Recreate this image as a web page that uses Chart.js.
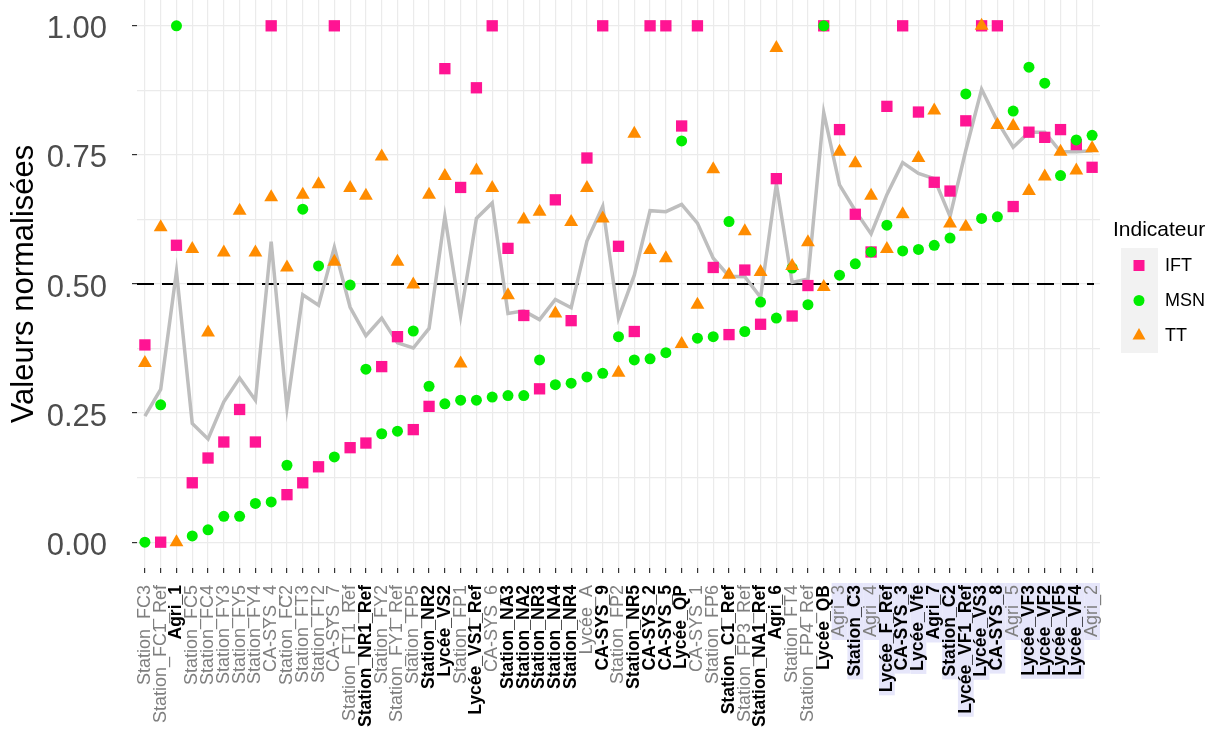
<!DOCTYPE html>
<html>
<head>
<meta charset="utf-8">
<script src="https://cdn.jsdelivr.net/npm/chart.js@4.4.0/dist/chart.umd.min.js"></script>
<style>
  html, body { margin: 0; padding: 0; background: #fff; }
  #wrap { width: 1223px; height: 729px; }
</style>
</head>
<body>
<div id="wrap"><canvas id="chart" width="1223" height="729"></canvas></div>
<script>
// systèmes, triés comme sur la figure
const categories = [
  'Station_FC3', 'Station_FC1_Ref', 'Agri_1', 'Station_FC5', 'Station_FC4', 'Station_FY3', 'Station_FY5', 'Station_FY4',
  'CA-SYS_4', 'Station_FC2', 'Station_FT3', 'Station_FT2', 'CA-SYS_7', 'Station_FT1_Ref', 'Station_NR1_Ref', 'Station_FY2',
  'Station_FY1_Ref', 'Station_FP5', 'Station_NR2', 'Lycée_VS2', 'Station_FP1', 'Lycée_VS1_Ref', 'CA-SYS_6', 'Station_NA3',
  'Station_NA2', 'Station_NR3', 'Station_NA4', 'Station_NR4', 'Lycée_A', 'CA-SYS_9', 'Station_FP2', 'Station_NR5',
  'CA-SYS_2', 'CA-SYS_5', 'Lycée_QP', 'CA-SYS_1', 'Station_FP6', 'Station_C1_Ref', 'Station_FP3_Ref', 'Station_NA1_Ref',
  'Agri_6', 'Station_FT4', 'Station_FP4_Ref', 'Lycée_QB', 'Agri_3', 'Station_C3', 'Agri_4', 'Lycée_F_Ref',
  'CA-SYS_3', 'Lycée_Vfe', 'Agri_7', 'Station_C2', 'Lycée_VF1_Ref', 'Lycée_VS3', 'CA-SYS_8', 'Agri_5',
  'Lycée_VF3', 'Lycée_VF2', 'Lycée_VF5', 'Lycée_VF4', 'Agri_2'
];

const ift = [
  0.382, 0.000, 0.575, 0.115, 0.163, 0.194, 0.257, 0.194, 1.000, 0.092,
  0.115, 0.146, 1.000, 0.183, 0.192, 0.340, 0.398, 0.218, 0.263, 0.917,
  0.687, 0.880, 1.000, 0.569, 0.439, 0.297, 0.663, 0.429, 0.744, 1.000,
  0.573, 0.408, 1.000, 1.000, 0.806, 1.000, 0.532, 0.402, 0.527, 0.422,
  0.704, 0.438, 0.497, 1.000, 0.799, 0.635, 0.562, 0.844, 1.000, 0.833,
  0.697, 0.680, 0.816, 1.000, 1.000, 0.650, 0.794, 0.784, 0.799, 0.770, 0.726
];

const msn = [
  0.000, 0.266, 1.000, 0.012, 0.024, 0.050, 0.050, 0.075, 0.078, 0.149,
  0.645, 0.535, 0.165, 0.498, 0.335, 0.210, 0.215, 0.409, 0.302, 0.268,
  0.275, 0.275, 0.281, 0.284, 0.284, 0.353, 0.305, 0.308, 0.320, 0.327,
  0.398, 0.353, 0.355, 0.367, 0.777, 0.395, 0.398, 0.621, 0.408, 0.465,
  0.434, 0.531, 0.460, 1.000, 0.517, 0.539, 0.562, 0.614, 0.564, 0.567,
  0.575, 0.589, 0.868, 0.627, 0.630, 0.835, 0.920, 0.889, 0.710, 0.779, 0.788
];

const tt = [
  0.347, 0.610, 0.000, 0.568, 0.406, 0.561, 0.642, 0.561, 0.668, 0.532,
  0.673, 0.693, 0.543, 0.686, 0.671, 0.747, 0.543, 0.499, 0.673, 0.709,
  0.346, 0.720, 0.686, 0.478, 0.625, 0.640, 0.443, 0.620, 0.686, 0.627,
  0.328, 0.791, 0.566, 0.550, 0.384, 0.460, 0.722, 0.518, 0.602, 0.523,
  0.957, 0.535, 0.581, 0.494, 0.756, 0.734, 0.671, 0.568, 0.635, 0.744,
  0.836, 0.617, 0.611, 1.000, 0.808, 0.806, 0.680, 0.708, 0.756, 0.720, 0.763
];

// ligne grise (moyenne des trois indicateurs)
const moyenne = [
  0.244, 0.296, 0.524, 0.230, 0.200, 0.272, 0.318, 0.275, 0.582, 0.261,
  0.479, 0.459, 0.571, 0.455, 0.400, 0.434, 0.386, 0.376, 0.414, 0.631,
  0.438, 0.627, 0.657, 0.443, 0.448, 0.431, 0.470, 0.454, 0.583, 0.650,
  0.434, 0.517, 0.642, 0.640, 0.654, 0.618, 0.550, 0.515, 0.514, 0.474,
  0.694, 0.503, 0.510, 0.832, 0.692, 0.642, 0.597, 0.673, 0.735, 0.714,
  0.704, 0.631, 0.759, 0.877, 0.815, 0.765, 0.794, 0.794, 0.756, 0.756, 0.758
];

const seuil = 0.5;

// libellés en gras
const boldLabels = [
  'Agri_1', 'Station_NR1_Ref', 'Station_NR2', 'Lycée_VS2', 'Lycée_VS1_Ref', 'Station_NA3', 'Station_NA2',
  'Station_NR3', 'Station_NA4', 'Station_NR4', 'CA-SYS_9', 'Station_NR5', 'CA-SYS_2', 'CA-SYS_5', 'Lycée_QP',
  'Station_C1_Ref', 'Station_NA1_Ref', 'Agri_6', 'Lycée_QB', 'Station_C3', 'Lycée_F_Ref', 'CA-SYS_3',
  'Lycée_Vfe', 'Agri_7', 'Station_C2', 'Lycée_VF1_Ref', 'Lycée_VS3', 'CA-SYS_8', 'Lycée_VF3', 'Lycée_VF2',
  'Lycée_VF5', 'Lycée_VF4'
];

// libellés surlignés
const highlightLabels = [
  'Agri_3', 'Station_C3', 'Agri_4', 'Lycée_F_Ref', 'CA-SYS_3', 'Lycée_Vfe', 'Agri_7', 'Station_C2',
  'Lycée_VF1_Ref', 'Lycée_VS3', 'CA-SYS_8', 'Agri_5', 'Lycée_VF3', 'Lycée_VF2', 'Lycée_VF5', 'Lycée_VF4', 'Agri_2'
];

const FONT = '"Liberation Sans", Arial, Helvetica, sans-serif';
Chart.defaults.font.family = FONT;

const colors = { IFT: '#ff1493', MSN: '#00ee00', TT: '#ff8c00' };

const tickFont = c => boldLabels.includes(c)
  ? { size: 17.5, weight: 'bold' }
  : { size: 18, weight: 'normal' };

// fond lavande derrière certains libellés
const labelHighlight = {
  id: 'labelHighlight',
  beforeDraw(chart) {
    const x = chart.scales.x;
    const ctx = chart.ctx;
    const step = x.getPixelForValue(1) - x.getPixelForValue(0);
    ctx.save();
    ctx.fillStyle = '#e6e6fa';
    categories.forEach((c, i) => {
      if (!highlightLabels.includes(c)) return;
      const f = tickFont(c);
      ctx.font = f.weight + ' ' + f.size + 'px ' + FONT;
      const w = ctx.measureText(c).width;
      const px = x.getPixelForValue(i);
      ctx.fillRect(px - step / 2, x.top + 15, step, w + 5);
    });
    ctx.restore();
  }
};

// ligne pointillée à 0.5
const seuilLine = {
  id: 'seuilLine',
  beforeDatasetsDraw(chart) {
    const { ctx, chartArea } = chart;
    const y = chart.scales.y.getPixelForValue(seuil);
    ctx.save();
    ctx.strokeStyle = '#000';
    ctx.lineWidth = 2;
    ctx.setLineDash([17, 8]);
    ctx.beginPath();
    ctx.moveTo(chartArea.left, y);
    ctx.lineTo(chartArea.right - 6, y);
    ctx.stroke();
    ctx.restore();
  }
};

// légende à droite
const legendBox = {
  id: 'legendBox',
  afterDraw(chart) {
    const ctx = chart.ctx;
    const left = chart.chartArea.right + 13;
    const top = 248;
    const keyH = 35;
    ctx.save();
    ctx.fillStyle = '#000';
    ctx.font = '21px ' + FONT;
    ctx.textBaseline = 'middle';
    ctx.textAlign = 'left';
    ctx.fillText('Indicateur', left, 230);
    ctx.fillStyle = '#f2f2f2';
    ctx.fillRect(left + 8, top, 37, keyH * 3);
    ['IFT', 'MSN', 'TT'].forEach((k, i) => {
      const cx = left + 26;
      const cy = top + keyH * i + keyH / 2;
      ctx.fillStyle = colors[k];
      ctx.beginPath();
      if (k === 'IFT') {
        ctx.rect(cx - 5.5, cy - 5.5, 11, 11);
      } else if (k === 'MSN') {
        ctx.arc(cx, cy, 5.5, 0, Math.PI * 2);
      } else {
        ctx.moveTo(cx, cy - 7.5);
        ctx.lineTo(cx + 6.5, cy + 4);
        ctx.lineTo(cx - 6.5, cy + 4);
        ctx.closePath();
      }
      ctx.fill();
      ctx.fillStyle = '#000';
      ctx.font = '18px ' + FONT;
      ctx.fillText(k, left + 52, cy + 1);
    });
    ctx.restore();
  }
};

const isMajor = v => Math.abs(v / 0.25 - Math.round(v / 0.25)) < 1e-9;

new Chart(document.getElementById('chart'), {
  type: 'line',
  data: {
    labels: categories,
    datasets: [
      { label: 'Moyenne', data: moyenne, borderColor: '#bebebe', borderWidth: 3.5, pointRadius: 0, tension: 0, fill: false, order: 4 },
      { label: 'IFT', data: ift, showLine: false, pointStyle: 'rect', pointRadius: 8, pointBorderWidth: 0,
        backgroundColor: colors.IFT, borderColor: colors.IFT, order: 3 },
      { label: 'MSN', data: msn, showLine: false, pointStyle: 'circle', pointRadius: 5.5, pointBorderWidth: 0,
        backgroundColor: colors.MSN, borderColor: colors.MSN, order: 2 },
      { label: 'TT', data: tt, showLine: false, pointStyle: 'triangle', pointRadius: 8, pointBorderWidth: 0,
        backgroundColor: colors.TT, borderColor: colors.TT, order: 1 }
    ]
  },
  options: {
    responsive: false,
    animation: false,
    devicePixelRatio: 1,
    layout: { autoPadding: false, padding: { left: 0, right: 123, top: 0, bottom: 0 } },
    plugins: {
      legend: { display: false },
      tooltip: { enabled: false }
    },
    scales: {
      x: {
        type: 'category',
        offset: true,
        border: { display: false },
        grid: { color: '#ebebeb', lineWidth: 1.2, offset: false, tickColor: '#333', tickLength: 5 },
        ticks: {
          autoSkip: false,
          minRotation: 90,
          maxRotation: 90,
          padding: 12,
          font: ctx => tickFont(categories[ctx.index]),
          color: ctx => boldLabels.includes(categories[ctx.index]) ? '#000' : '#7f7f7f'
        },
        afterFit(scale) {
          scale.height = 161;
          scale.paddingLeft = 0;
          scale.paddingRight = 0;
        }
      },
      y: {
        min: -0.05,
        max: 1.05,
        border: { display: false },
        grid: {
          color: '#ebebeb',
          lineWidth: 1.2,
          tickLength: 5,
          tickColor: ctx => (ctx.tick && isMajor(ctx.tick.value)) ? '#333' : 'rgba(0,0,0,0)'
        },
        ticks: {
          stepSize: 0.125,
          includeBounds: false,
          autoSkip: false,
          padding: 25,
          labelOffset: 4,
          color: '#4d4d4d',
          font: { size: 31 },
          callback: v => isMajor(v) ? v.toFixed(2) : ''
        },
        title: {
          display: true,
          text: 'Valeurs normalisées',
          color: '#000',
          font: { size: 31 },
          padding: { top: 6, bottom: 0 }
        },
        afterFit(scale) {
          scale.width = 137;
          scale.paddingTop = 0;
          scale.paddingBottom = 0;
        }
      }
    }
  },
  plugins: [labelHighlight, seuilLine, legendBox]
});
</script>
</body>
</html>
